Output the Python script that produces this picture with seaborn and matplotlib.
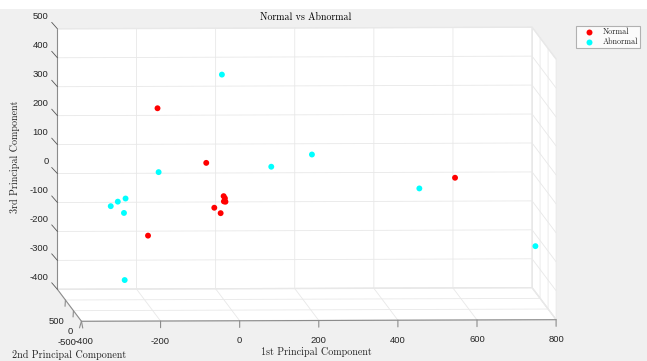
import numpy as np
import pandas as pd
import matplotlib
matplotlib.use("Agg")
import matplotlib.pyplot as plt
from matplotlib.patches import Rectangle
from matplotlib.lines import Line2D
from mpl_toolkits.mplot3d import proj3d
import seaborn as sns

# ---- data ----
classes = ["Normal", "Abnormal"]
normal_pc1 = [-183, -61, 570, -208, -16, -13, -16, -11, -39, -24]
normal_pc2 = [110, 80, 130, 85, 105, 100, 90, 115, 120, 95]
normal_pc3 = [290, 103, 45, -148, -14, -21, -31, -34, -55, -72]
abnormal_pc1 = [-21, -180, 105, 206, 479, 772, -264, -284, -301, -269, -266]
abnormal_pc2 = [90, 115, 120, 75, 110, 100, 105, 95, 115, 80, 110]
abnormal_pc3 = [407, 69, 86, 131, 10, -190, -21, -31, -48, -69, -303]
x_ticks = [-400, -200, 0, 200, 400, 600, 800]
y_ticks = [-500, 0, 500]
z_ticks = [-400, -300, -200, -100, 0, 100, 200, 300, 400, 500]

df = pd.concat([
    pd.DataFrame({"pc1": normal_pc1, "pc2": normal_pc2, "pc3": normal_pc3, "cls": classes[0]}),
    pd.DataFrame({"pc1": abnormal_pc1, "pc2": abnormal_pc2, "pc3": abnormal_pc3, "cls": classes[1]}),
])

sns.set_style("white")
plt.rcParams["grid.color"] = "#e8e8e8"
plt.rcParams["grid.linewidth"] = 0.6
palette = dict(zip(classes, sns.color_palette(["#ff0000", "#00ffff"])))
tick_font = ["Liberation Sans", "DejaVu Sans"]
serif = ["cmr10", "DejaVu Serif"]

W, H = 647, 361
fig = plt.figure(figsize=(W / 100, H / 100), dpi=100, facecolor="#f0f0f0")
fig.patches.append(Rectangle((0, 1 - 9 / H), 1, 9 / H, transform=fig.transFigure,
                             facecolor="white", edgecolor="none", zorder=0))

side = 500
cx, cy = 300, 181
ax = fig.add_axes([(cx - side / 2) / W, 1 - (cy + side / 2) / H, side / W, side / H],
                  projection="3d", proj_type="ortho")
ax.set_facecolor("none")
ax.set_box_aspect((475, 475, 261), zoom=1.40)
ax.view_init(elev=3.86, azim=-92.9)

for cls in classes:
    d = df[df["cls"] == cls]
    ax.scatter(d["pc1"], d["pc2"], d["pc3"], color=palette[cls], s=18,
               depthshade=False, edgecolors="none", label=cls)

ax.set_xlim(-400, 800)
ax.set_ylim(-500, 1000)
ax.set_zlim(-400, 500)
ax.set_xticks(x_ticks)
ax.set_yticks(y_ticks)
ax.set_zticks(z_ticks)
ax.set_xticklabels([])
ax.set_yticklabels([])
ax.set_zticklabels([])
for axis in (ax.xaxis, ax.yaxis, ax.zaxis):
    try:
        axis._axinfo["tick"]["inward_factor"] = 0.0
        axis._axinfo["tick"]["outward_factor"] = 0.0
    except Exception:
        pass
    axis.set_pane_color((1, 1, 1, 1))
    axis.pane.set_edgecolor("#e8e8e8")
    axis.line.set_color("#8c8c8c")
    axis.line.set_linewidth(0.8)
ax.set_xlabel("")
ax.set_ylabel("")
ax.set_zlabel("")

fig.text(306 / W, 1 - 17 / H, "Normal vs Abnormal", ha="center", va="center",
         family=serif, fontsize=7.1, color="#000000")
fig.text(316 / W, 1 - 352 / H, "1st Principal Component", ha="center", va="center",
         family=serif, fontsize=7.25, color="#262626")
fig.text(12 / W, 1 - 355 / H, "2nd Principal Component", ha="left", va="center",
         family=serif, fontsize=7.25, color="#262626")
fig.text(15 / W, 1 - 157 / H, "3rd Principal Component", ha="center", va="center",
         rotation=90, family=serif, fontsize=7.25, color="#262626")

handles = [Line2D([], [], linestyle="none", marker="o", markersize=4.3,
                  markerfacecolor=palette[c], markeredgecolor="none", label=c) for c in classes]
leg = fig.legend(handles=handles, loc="upper left", bbox_to_anchor=(576 / W, 1 - 26 / H),
                 prop={"family": serif, "size": 5.8}, frameon=True, fancybox=False,
                 borderpad=0.25, handletextpad=0.37, labelspacing=0.2, handlelength=2.7,
                 borderaxespad=0)
leg.get_frame().set_edgecolor("#a0a0a0")
leg.get_frame().set_linewidth(0.8)
leg.get_frame().set_facecolor("white")

# MATLAB-style tick labels and tick marks placed through the 3D projection
fig.canvas.draw()
M = ax.get_proj()
xmin, xmax = ax.get_xlim()
ymin, ymax = ax.get_ylim()
zmin, zmax = ax.get_zlim()
lab_kw = dict(xycoords="data", textcoords="offset pixels", fontsize=6.8,
              family=tick_font, color="#262626", annotation_clip=False)

for zt in z_ticks:
    px, py, _ = proj3d.proj_transform(xmin, ymax, zt, M)
    ax.annotate(f"{zt}", xy=(px, py), xytext=(-9, 12), ha="right", va="center",
                arrowprops=dict(arrowstyle="-", color="#555555", lw=0.6,
                                shrinkA=0, shrinkB=0, relpos=(1.05, 0.2)), **lab_kw)

for xt in x_ticks:
    px, py, _ = proj3d.proj_transform(xt, ymin, zmin, M)
    ax.annotate(f"{xt}", xy=(px, py), xytext=(3 if xt == x_ticks[0] else 0, -20),
                ha="center", va="center",
                arrowprops=dict(arrowstyle="-", color="#8c8c8c", lw=0.8,
                                shrinkA=4, shrinkB=0, relpos=(0.5, 1.0)), **lab_kw)

for yt in y_ticks:
    px, py, _ = proj3d.proj_transform(xmin, yt, zmin, M)
    ax.annotate(f"{yt}", xy=(px, py), xytext=(-5 if yt == y_ticks[0] else -1, -21),
                ha="right", va="center",
                arrowprops=dict(arrowstyle="-", color="#8c8c8c", lw=0.8,
                                shrinkA=5, shrinkB=0, relpos=(1.0, 1.0)), **lab_kw)

fig.savefig("out.png", dpi=100, facecolor=fig.get_facecolor())
